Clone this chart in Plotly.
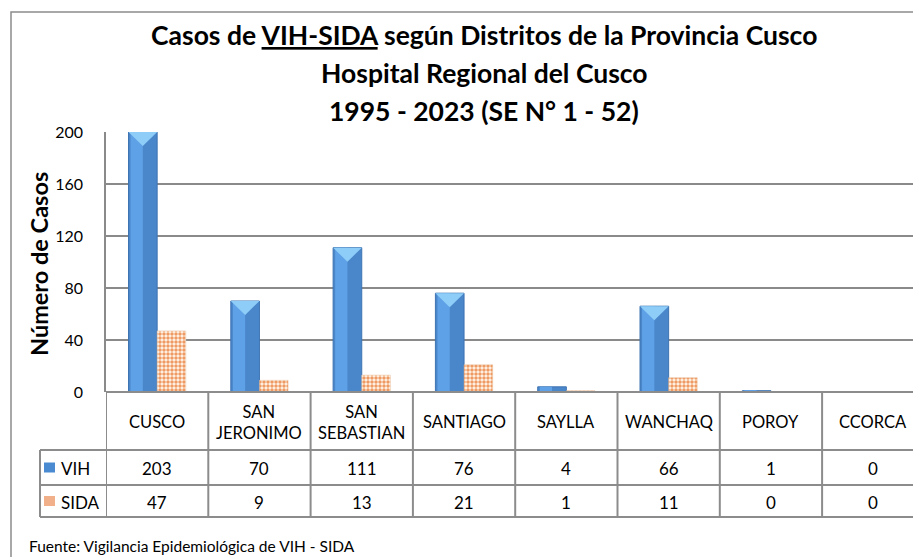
import plotly.graph_objects as go

# ---- data ----
categories = ["CUSCO", "SAN<br>JERONIMO", "SAN<br>SEBASTIAN", "SANTIAGO", "SAYLLA", "WANCHAQ", "POROY", "CCORCA"]
series_names = ["VIH", "SIDA"]
vih = [203, 70, 111, 76, 4, 66, 1, 0]
sida = [47, 9, 13, 21, 1, 11, 0, 0]
y_ticks = [0, 40, 80, 120, 160, 200]
title_lines = ["Casos de <u>VIH-SIDA</u> según Distritos de la Provincia Cusco",
               "Hospital Regional del Cusco",
               "1995 - 2023 (SE N° 1 - 52)"]
y_title = "Número de Casos"
source = "Fuente: Vigilancia Epidemiológica de VIH - SIDA"

# ---- layout geometry (target pixels in the page; the page body has an 8px margin) ----
OFF = 8
W, H = 921 - OFF, 557 - OFF
X0, X1 = 106, 921          # plot area left/right (page px)
Y0, Y1 = 132, 392          # plot area top/bottom (page px)
ML, MR, MT, MB = X0 - OFF, OFF + W - X1, Y0 - OFF, OFF + H - Y1
PW = X1 - X0
PH = Y1 - Y0
YMAX = 200
FONT = "Lato, Carlito, Calibri, sans-serif"
GRID = "#8A8A8A"


def px(x):
    return (x - X0) / PW


def py(y):
    return (Y1 - y) / PH


idx = list(range(len(categories)))
BW = 0.28
px_per_unit = PH / YMAX
CAT_PX = 102.3

fig = go.Figure()

# VIH prism: dark right face
fig.add_trace(go.Bar(
    x=idx, y=vih, offset=-BW, width=BW, name=series_names[0],
    marker=dict(color="#4A86CA", line=dict(color="#3E74B2", width=1)),
    hoverinfo="skip", showlegend=False))
# VIH lighter left face
fig.add_trace(go.Bar(
    x=idx, y=vih, offset=-BW + 0.02, width=BW / 2 - 0.02,
    marker=dict(color="#5FA1E6", line=dict(width=0)),
    hoverinfo="skip", showlegend=False))

# top chevron of VIH bars (derived from the data)
tx, ty = [], []
d = 14 / px_per_unit
for i, v in zip(idx, vih):
    if v < 20:
        continue
    top = min(v, YMAX)
    tx += [i - BW, i, i - BW / 2, i - BW, None]
    ty += [top, top, top - d, top, None]
fig.add_trace(go.Scatter(
    x=tx, y=ty, mode="lines", fill="toself", fillcolor="#8DCDF8",
    line=dict(width=0), hoverinfo="skip", showlegend=False))

# SIDA checkered bars
fig.add_trace(go.Bar(
    x=idx, y=sida, offset=0, width=BW, name=series_names[1],
    marker=dict(color="#FFF4E8",
                pattern=dict(shape=".", size=4, solidity=0.6,
                             fgcolor="#EE9A62", bgcolor="#FFF8EE", fillmode="replace"),
                line=dict(color="#E8C0A0", width=0.5)),
    hoverinfo="skip", showlegend=False))

fig.update_layout(
    width=W, height=H,
    margin=dict(l=ML, r=MR, t=MT, b=MB),
    paper_bgcolor="white", plot_bgcolor="white",
    barmode="overlay",
    font=dict(family=FONT, color="black"),
    xaxis=dict(range=[-0.5, -0.5 + PW / CAT_PX], showticklabels=False,
               showgrid=False, zeroline=False, showline=False, fixedrange=True),
    yaxis=dict(range=[0, YMAX], tickvals=y_ticks, showgrid=True, gridcolor=GRID,
               gridwidth=1.6, zeroline=False, showline=True, linecolor=GRID,
               linewidth=1.6, tickfont=dict(size=16, family=FONT),
               ticklabelstandoff=18, fixedrange=True),
    showlegend=False,
)

shapes = []
annots = []

# outer chart border
shapes.append(dict(type="rect", xref="paper", yref="paper",
                   x0=px(11), x1=px(940), y0=py(12), y1=py(600),
                   line=dict(color="#8C8C8C", width=1.5), fillcolor="rgba(0,0,0,0)", layer="below"))

# title
for line, yc in zip(title_lines, [35, 73, 111]):
    annots.append(dict(text="<b>" + line + "</b>", xref="paper", yref="paper",
                       x=px(484), y=py(yc), xanchor="center", yanchor="middle",
                       showarrow=False, font=dict(size=26.5, family=FONT, color="black")))

# y title
annots.append(dict(text="<b>" + y_title + "</b>", xref="paper", yref="paper",
                   x=px(39), y=py(264), xanchor="center", yanchor="middle", textangle=-90,
                   showarrow=False, font=dict(size=23.5, family=FONT, color="black")))

# data table
TL = "#8C8C8C"
row_top, row_h1, row_h2, row_bot = 392, 450, 485, 517
n = len(categories)
xr = -0.5 + PW / CAT_PX + 1
# horizontal lines
shapes.append(dict(type="line", xref="x", yref="paper", x0=-0.5, x1=xr,
                   y0=py(row_top), y1=py(row_top), line=dict(color=TL, width=2)))
for yy in [row_h1, row_h2, row_bot]:
    shapes.append(dict(type="line", xref="paper", yref="paper", x0=px(40), x1=1.02,
                       y0=py(yy), y1=py(yy), line=dict(color=TL, width=2)))
# vertical lines
for k in range(n + 1):
    shapes.append(dict(type="line", xref="x", yref="paper", x0=k - 0.5, x1=k - 0.5,
                       y0=py(row_top), y1=py(row_bot), line=dict(color=TL, width=2)))
shapes.append(dict(type="line", xref="paper", yref="paper", x0=px(40), x1=px(40),
                   y0=py(row_h1), y1=py(row_bot), line=dict(color=TL, width=2)))

for i, c in enumerate(categories):
    annots.append(dict(text=c, xref="x", yref="paper", x=i, y=py((row_top + row_h1) / 2 + 1),
                       xanchor="center", yanchor="middle", showarrow=False,
                       font=dict(size=16.5, family=FONT, color="black")))
for vals, (ya, yb) in zip([vih, sida], [(row_h1, row_h2), (row_h2, row_bot)]):
    for i, v in enumerate(vals):
        annots.append(dict(text=str(v), xref="x", yref="paper", x=i, y=py((ya + yb) / 2 + 1),
                           xanchor="center", yanchor="middle", showarrow=False,
                           font=dict(size=17, family=FONT, color="black")))

# row headers with legend keys
for name, (ya, yb), col in zip(series_names, [(row_h1, row_h2), (row_h2, row_bot)],
                               ["#4A8AD0", "#F2B08A"]):
    yc = (ya + yb) / 2
    shapes.append(dict(type="rect", xref="paper", yref="paper",
                       x0=px(44), x1=px(55), y0=py(yc - 5), y1=py(yc + 5),
                       fillcolor=col, line=dict(width=0)))
    annots.append(dict(text=name, xref="paper", yref="paper", x=px(59), y=py(yc + 1),
                       xanchor="left", yanchor="middle", showarrow=False,
                       font=dict(size=17, family=FONT, color="black")))

# source note
annots.append(dict(text=source, xref="paper", yref="paper", x=px(27), y=py(546),
                   xanchor="left", yanchor="middle", showarrow=False,
                   font=dict(size=15.5, family=FONT, color="black")))

fig.update_layout(shapes=shapes, annotations=annots)
fig.write_html("out.html")
